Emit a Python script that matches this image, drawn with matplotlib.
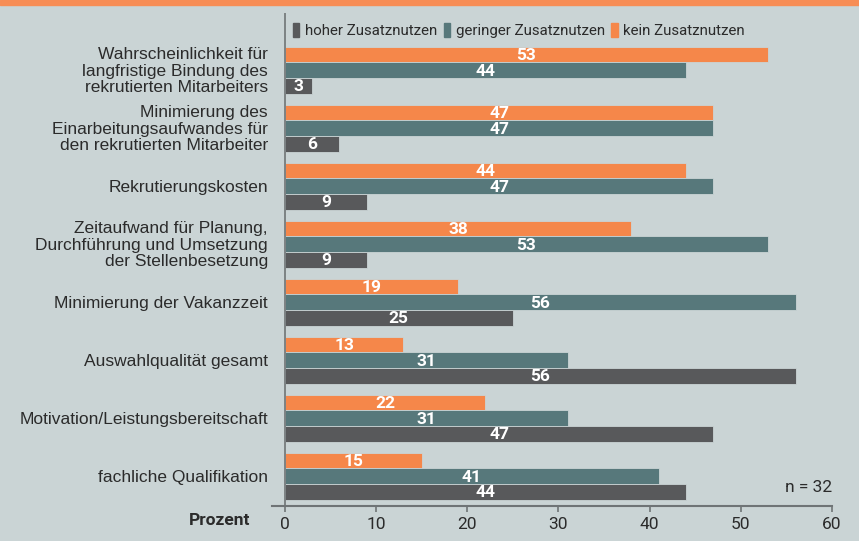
import matplotlib
matplotlib.use('Agg')
import matplotlib.pyplot as plt
import matplotlib.patches as mpatches
import numpy as np

# Daten
kategorien = [
    "Wahrscheinlichkeit für\nlangfristige Bindung des\nrekrutierten Mitarbeiters",
    "Minimierung des\nEinarbeitungsaufwandes für\nden rekrutierten Mitarbeiter",
    "Rekrutierungskosten",
    "Zeitaufwand für Planung,\nDurchführung und Umsetzung\nder Stellenbesetzung",
    "Minimierung der Vakanzzeit",
    "Auswahlqualität gesamt",
    "Motivation/Leistungsbereitschaft",
    "fachliche Qualifikation",
]
kein = [53, 47, 44, 38, 19, 13, 22, 15]
gering = [44, 47, 47, 53, 56, 31, 31, 41]
hoch = [3, 6, 9, 9, 25, 56, 47, 44]
x_ticks = [0, 10, 20, 30, 40, 50, 60]

BG = '#cad4d5'
ORANGE = '#f5874a'
TEAL = '#57787b'
GRAU = '#58595b'
TXT = '#2b2b2b'
COND = ['Liberation Sans Narrow', 'Roboto', 'DejaVu Sans']
REG = ['Liberation Sans', 'DejaVu Sans']

fig = plt.figure(figsize=(8.59, 5.41), dpi=100, facecolor=BG)
ax = fig.add_axes([272 / 859, 35 / 541, (832 - 272) / 859, (506 - 13) / 541])
ax.set_facecolor(BG)

y = np.arange(len(kategorien))
h = 0.27
serien = [(kein, ORANGE, -h), (gering, TEAL, 0), (hoch, GRAU, h)]
for werte, farbe, off in serien:
    bars = ax.barh(y + off, werte, height=h, color=farbe, edgecolor=BG, linewidth=0.6)
    for b, v in zip(bars, werte):
        ax.text(v / 2, b.get_y() + b.get_height() / 2 + 0.02, str(v), ha='center', va='center',
                color='white', fontsize=12.5, fontweight='bold', family=COND)

ax.set_ylim(7.517, -0.983)
ax.set_xlim(-1.4, 60)
ax.axvline(0, color='#6f7476', linewidth=1.2)

for s in ['top', 'right', 'left']:
    ax.spines[s].set_visible(False)
ax.spines['bottom'].set_color('#6f7476')
ax.spines['bottom'].set_linewidth(1.5)
ax.set_xticks(x_ticks)
ax.set_xticklabels([str(t) for t in x_ticks], family=COND, fontsize=12.5, color=TXT)
ax.tick_params(axis='x', direction='out', length=4, width=1.2, color='#6f7476', pad=4)
ax.set_yticks([])

for i, k in enumerate(kategorien):
    ax.text(-1.85, i + 0.02, k, ha='right', va='center', fontsize=12.5, family=REG,
            color=TXT, linespacing=1.12)

ax.text(-3.8, 7.76, 'Prozent', ha='right', va='center',
        fontsize=12.5, fontweight='bold', family=COND, color=TXT, clip_on=False)
ax.text(60, 7.2, 'n = 32', ha='right', va='center',
        fontsize=12.5, family=COND, color=TXT)

handles = [mpatches.Patch(color=GRAU, label='hoher Zusatznutzen'),
           mpatches.Patch(color=TEAL, label='geringer Zusatznutzen'),
           mpatches.Patch(color=ORANGE, label='kein Zusatznutzen')]
leg = ax.legend(handles=handles, ncol=3, frameon=False, loc='upper left',
                bbox_to_anchor=(0.026, 0.992), handlelength=0.45, handleheight=1.1,
                handletextpad=0.35, columnspacing=0.45, prop={'family': COND, 'size': 10.8},
                borderaxespad=0)
for t in leg.get_texts():
    t.set_color(TXT)

# orangener Balken oben
fig.patches.append(mpatches.Rectangle((0, 1 - 5 / 541), 1, 5 / 541, transform=fig.transFigure,
                                      color='#f78d55', zorder=5))

fig.savefig('out.png', dpi=100, facecolor=BG)
